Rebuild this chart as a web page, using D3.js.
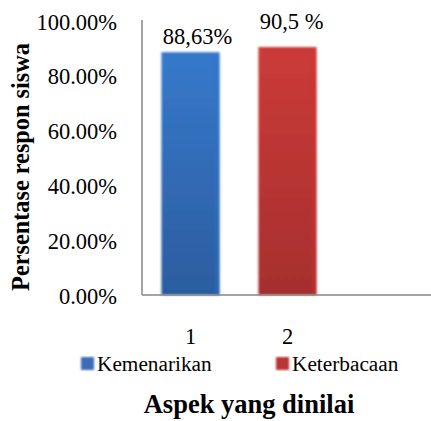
<!DOCTYPE html>
<html>
<head>
<meta charset="utf-8">
<script src="https://cdn.jsdelivr.net/npm/d3@7"></script>
<style>
  html, body { margin: 0; padding: 0; background: #fff; }
  svg { display: block; }
</style>
</head>
<body>
<svg id="chart" width="431" height="421"></svg>
<script>
// Survey result: percentage of student responses per assessed aspect
const categories = ["1", "2"];
const seriesNames = ["Kemenarikan", "Keterbacaan"];
const seriesValues = [88.63, 90.5];
const valueLabels = ["88,63%", "90,5 %"];
const yTicks = [0, 20, 40, 60, 80, 100];
const yTickLabels = ["0.00%", "20.00%", "40.00%", "60.00%", "80.00%", "100.00%"];

const FONT = "Liberation Serif";
const plot = { left: 142, right: 431, top: 21, bottom: 295 };

const svg = d3.select("#chart").attr("font-family", FONT);
const defs = svg.append("defs");

const palettes = [
  { top: "#3679cb", bottom: "#2c5d9f", edge: "#2a76d6", key: "#3a6cb5" },
  { top: "#cb3b38", bottom: "#a62f2e", edge: "#dc2d2a", key: "#b93536" }
];

palettes.forEach((p, i) => {
  const g = defs.append("linearGradient")
    .attr("id", "fill" + i).attr("x1", 0).attr("y1", 0).attr("x2", 0).attr("y2", 1);
  g.append("stop").attr("offset", "0%").attr("stop-color", p.top);
  g.append("stop").attr("offset", "100%").attr("stop-color", p.bottom);
});
defs.append("filter").attr("id", "soft")
  .attr("x", "-20%").attr("y", "-5%").attr("width", "140%").attr("height", "110%")
  .append("feGaussianBlur").attr("stdDeviation", 0.9);

const x = d3.scaleBand()
  .domain(categories)
  .range([plot.left, plot.left + 194])
  .paddingInner(0.4)
  .paddingOuter(0.2);

const y = d3.scaleLinear().domain([0, 100]).range([plot.bottom, plot.top]);

// Bars
const bars = svg.append("g");
categories.forEach((c, i) => {
  bars.append("rect")
    .attr("x", x(c))
    .attr("y", y(seriesValues[i]))
    .attr("width", x.bandwidth())
    .attr("height", y(0) - y(seriesValues[i]))
    .attr("fill", `url(#fill${i})`)
    .attr("filter", "url(#soft)");
  // brighter strip along the right edge
  bars.append("rect")
    .attr("x", x(c) + x.bandwidth() - 5)
    .attr("y", y(seriesValues[i]) + 4)
    .attr("width", 4)
    .attr("height", y(0) - y(seriesValues[i]) - 4)
    .attr("fill", palettes[i].edge)
    .attr("opacity", 0.35)
    .attr("filter", "url(#soft)");
});

// Y axis
const yAxis = d3.axisLeft(y)
  .tickValues(yTicks)
  .tickFormat((d, i) => yTickLabels[i])
  .tickSize(0)
  .tickPadding(25);
const yg = svg.append("g").attr("transform", `translate(${plot.left},0)`).call(yAxis)
  .attr("font-family", FONT).attr("font-size", 22.5);
yg.select(".domain").remove();
yg.selectAll("text").attr("fill", "#000").attr("dy", "0.36em");

// Axis lines
svg.append("line")
  .attr("x1", plot.left).attr("x2", plot.left)
  .attr("y1", plot.top - 1).attr("y2", plot.bottom)
  .attr("stroke", "#868686").attr("stroke-width", 1.5);
svg.append("line")
  .attr("x1", plot.left).attr("x2", plot.right)
  .attr("y1", plot.bottom).attr("y2", plot.bottom)
  .attr("stroke", "#868686").attr("stroke-width", 1.5);

// X axis category labels
const xAxis = d3.axisBottom(x).tickSize(0).tickPadding(33);
const xg = svg.append("g").attr("transform", `translate(0,${plot.bottom})`).call(xAxis)
  .attr("font-family", FONT).attr("font-size", 22.5);
xg.select(".domain").remove();
xg.selectAll("text").attr("fill", "#000");

// Value labels
const labelShift = [{ dx: 7, dy: -8 }, { dx: 4, dy: -18 }];
categories.forEach((c, i) => {
  svg.append("text")
    .attr("x", x(c) + x.bandwidth() / 2 + labelShift[i].dx)
    .attr("y", y(seriesValues[i]) + labelShift[i].dy)
    .attr("text-anchor", "middle")
    .attr("font-size", 22.5)
    .text(valueLabels[i]);
});

// Legend
const legendX = [81, 276];
seriesNames.forEach((name, i) => {
  const g = svg.append("g").attr("transform", `translate(${legendX[i]},357)`);
  g.append("rect").attr("width", 13).attr("height", 13)
    .attr("fill", palettes[i].key)
    .attr("filter", "url(#soft)");
  g.append("text").attr("x", 16).attr("y", 13.5)
    .attr("font-size", 21.3)
    .text(name);
});

// Axis titles
svg.append("text")
  .attr("transform", `translate(29,167) rotate(-90)`)
  .attr("text-anchor", "middle")
  .attr("font-size", 24.3)
  .attr("font-weight", "bold")
  .text("Persentase respon siswa");

svg.append("text")
  .attr("x", 249).attr("y", 413)
  .attr("text-anchor", "middle")
  .attr("font-size", 26.5)
  .attr("font-weight", "bold")
  .text("Aspek yang dinilai");
</script>
</body>
</html>
